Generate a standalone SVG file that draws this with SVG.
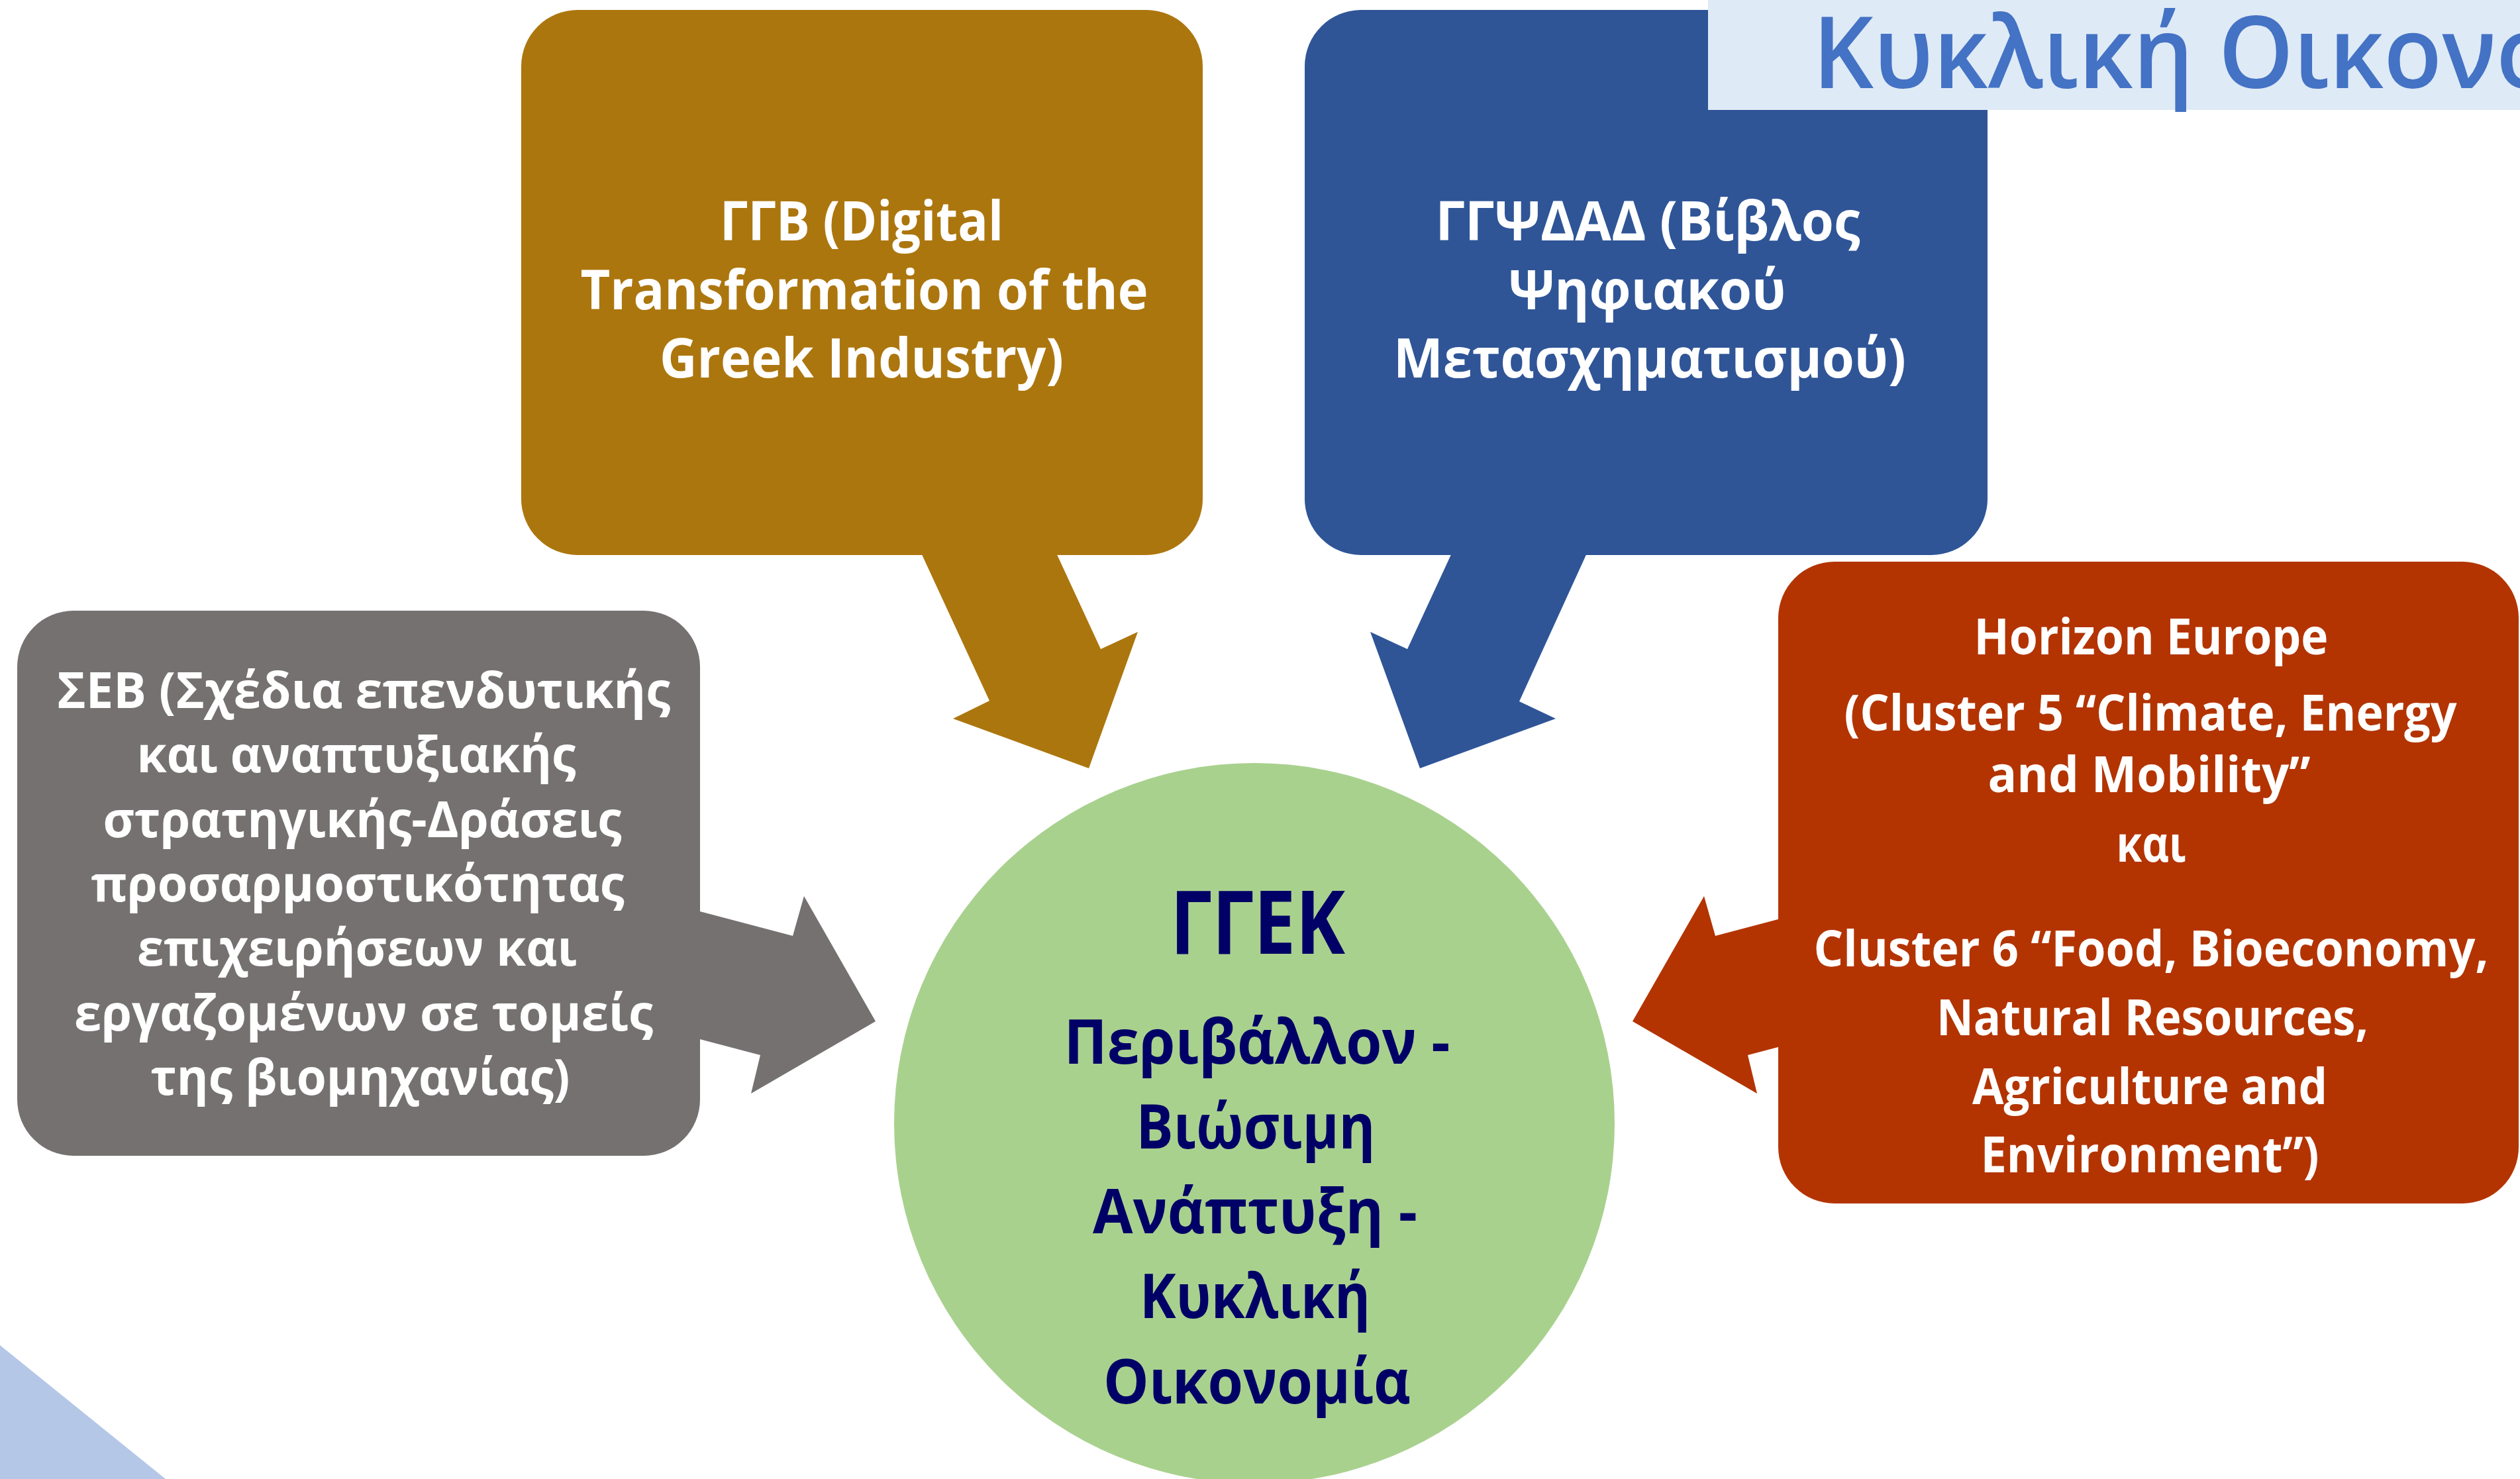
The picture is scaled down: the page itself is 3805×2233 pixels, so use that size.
<svg xmlns="http://www.w3.org/2000/svg" width="3805" height="2233" viewBox="0 0 3805 2233">
<style>
  .t { font-family: "Open Sans", "Noto Sans", "DejaVu Sans", sans-serif; font-weight: bold; text-anchor: middle; }
  .w { fill: #FFFFFF; }
  .box { font-size: 83px; }
  .sm { font-size: 76px; }
  .navy { fill: #000066; }
  .big { font-size: 132px; }
  .mid { font-size: 94px; }
</style>
<rect x="0" y="0" width="3805" height="2233" fill="#FFFFFF"/>
<polygon id="corner-triangle" points="0,2031 250,2233 0,2233" fill="#B4C7E7"/>

<g id="connectors">
  <polygon id="arrow-ggb" points="1384,820 1588,820 1662,980 1718,954 1644,1160 1439,1085 1494,1058" fill="#AC760E"/>
  <polygon id="arrow-ggpsdad" points="2403,820 2199,820 2125,980 2069,954 2144,1160 2349,1085 2294,1059" fill="#2F5597"/>
  <polygon id="arrow-seb" points="1000,1361 1197,1413 1214,1353 1322,1542 1134,1651 1148,1593 1000,1554" fill="#767171"/>
  <polygon id="arrow-horizon" points="2787,1361 2590,1413 2573,1353 2465,1542 2653,1651 2639,1593 2787,1554" fill="#B33400"/>
</g>

<g id="node-ggb">
  <rect x="787" y="15" width="1029" height="823" rx="85" ry="85" fill="#AC760E"/>
  <text class="t w box" x="1301" y="363" textLength="428" lengthAdjust="spacingAndGlyphs">ΓΓΒ (Digital</text>
  <text class="t w box" x="1305" y="467" textLength="857" lengthAdjust="spacingAndGlyphs">Transformation of the</text>
  <text class="t w box" x="1301" y="570" textLength="610" lengthAdjust="spacingAndGlyphs">Greek Industry)</text>
</g>

<g id="node-ggpsdad">
  <rect x="1970" y="15" width="1031" height="823" rx="85" ry="85" fill="#2F5597"/>
  <text class="t w box" x="2488" y="363" textLength="641" lengthAdjust="spacingAndGlyphs">ΓΓΨΔΑΔ (Βίβλος</text>
  <text class="t w box" x="2487" y="467" textLength="419" lengthAdjust="spacingAndGlyphs">Ψηφιακού</text>
  <text class="t w box" x="2491" y="570" textLength="774" lengthAdjust="spacingAndGlyphs">Μετασχηματισμού)</text>
</g>

<g id="title">
  <rect x="2579" y="0" width="1226" height="166" fill="#DEEAF6"/>
  <text x="2737" y="133" font-family="'Open Sans', 'Noto Sans', 'DejaVu Sans', sans-serif" font-size="150" font-weight="600" fill="#4472C4" textLength="1120" lengthAdjust="spacingAndGlyphs">Κυκλική Οικονο</text>
</g>

<g id="node-seb">
  <rect x="26" y="922" width="1031" height="823" rx="85" ry="85" fill="#767171"/>
  <text class="t w sm" x="549" y="1069" textLength="926" lengthAdjust="spacingAndGlyphs">ΣΕΒ (Σχέδια επενδυτικής</text>
  <text class="t w sm" x="538" y="1166" textLength="663" lengthAdjust="spacingAndGlyphs">και αναπτυξιακής</text>
  <text class="t w sm" x="547" y="1264" textLength="783" lengthAdjust="spacingAndGlyphs">στρατηγικής-Δράσεις</text>
  <text class="t w sm" x="540" y="1361" textLength="805" lengthAdjust="spacingAndGlyphs">προσαρμοστικότητας</text>
  <text class="t w sm" x="539" y="1458" textLength="664" lengthAdjust="spacingAndGlyphs">επιχειρήσεων και</text>
  <text class="t w sm" x="549" y="1556" textLength="874" lengthAdjust="spacingAndGlyphs">εργαζομένων σε τομείς</text>
  <text class="t w sm" x="544" y="1653" textLength="633" lengthAdjust="spacingAndGlyphs">της βιομηχανίας)</text>
</g>

<g id="node-horizon">
  <rect x="2685" y="848" width="1118" height="969" rx="85" ry="85" fill="#B33400"/>
  <text class="t w sm" x="3248" y="988" textLength="535" lengthAdjust="spacingAndGlyphs">Horizon Europe</text>
  <text class="t w sm" x="3247" y="1103" textLength="925" lengthAdjust="spacingAndGlyphs">(Cluster 5 “Climate, Energy</text>
  <text class="t w sm" x="3245" y="1196" textLength="487" lengthAdjust="spacingAndGlyphs">and Mobility”</text>
  <text class="t w sm" x="3248" y="1301" textLength="105" lengthAdjust="spacingAndGlyphs">και</text>
  <text class="t w sm" x="3248" y="1459" textLength="1019" lengthAdjust="spacingAndGlyphs">Cluster 6 “Food, Bioeconomy,</text>
  <text class="t w sm" x="3250" y="1563" textLength="652" lengthAdjust="spacingAndGlyphs">Natural Resources,</text>
  <text class="t w sm" x="3246" y="1667" textLength="536" lengthAdjust="spacingAndGlyphs">Agriculture and</text>
  <text class="t w sm" x="3246" y="1770" textLength="511" lengthAdjust="spacingAndGlyphs">Environment”)</text>
</g>

<g id="node-ggek">
  <circle cx="1894" cy="1696" r="544" fill="#A9D18E"/>
  <text class="t navy big" x="1899" y="1440" textLength="264" lengthAdjust="spacingAndGlyphs">ΓΓΕΚ</text>
  <text class="t navy mid" x="1898" y="1606" textLength="583" lengthAdjust="spacingAndGlyphs">Περιβάλλον -</text>
  <text class="t navy mid" x="1896" y="1734" textLength="361" lengthAdjust="spacingAndGlyphs">Βιώσιμη</text>
  <text class="t navy mid" x="1895" y="1862" textLength="490" lengthAdjust="spacingAndGlyphs">Ανάπτυξη -</text>
  <text class="t navy mid" x="1895" y="1990" textLength="348" lengthAdjust="spacingAndGlyphs">Κυκλική</text>
  <text class="t navy mid" x="1898" y="2119" textLength="464" lengthAdjust="spacingAndGlyphs">Οικονομία</text>
</g>
</svg>
